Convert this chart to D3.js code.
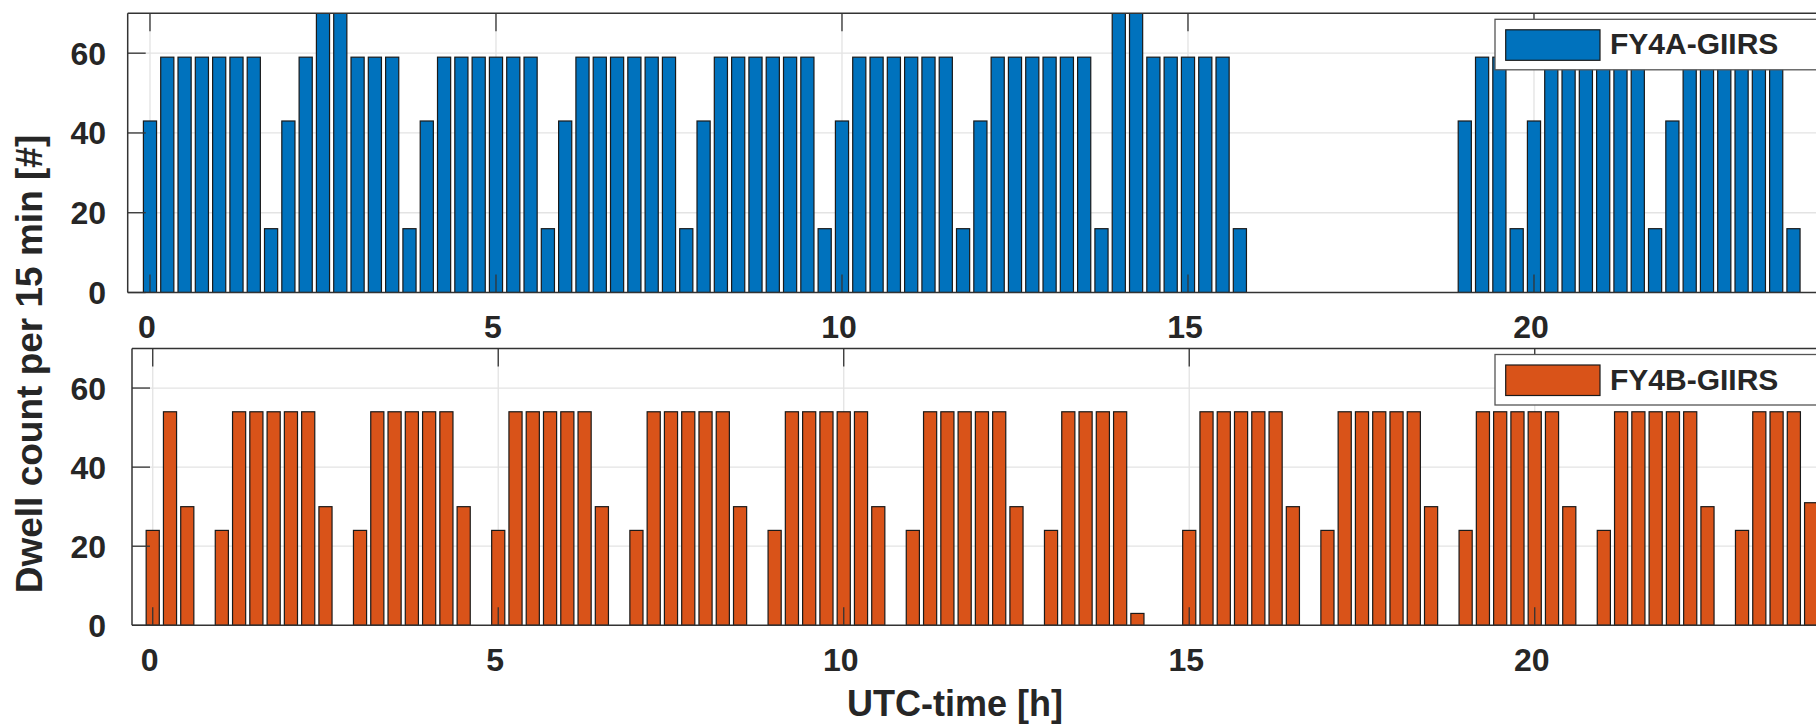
<!DOCTYPE html>
<html>
<head>
<meta charset="utf-8">
<script src="https://cdn.jsdelivr.net/npm/d3@7"></script>
<style>
  body { margin: 0; background: #fff; }
  text { font-family: "Liberation Sans", Arial, sans-serif; font-weight: bold; fill: #262626; }
</style>
</head>
<body>
<div id="chart"></div>
<script>
// 15 min slots from 0 h to 24 h
const slotHours = d3.range(0, 24.001, 0.25)

// dwell counts per slot (bars above 70 are cut by the axis)
const fy4aCounts = [
  43, 59, 59, 59, 59, 59, 59, 16,
  43, 59, 75, 75, 59, 59, 59, 16,
  43, 59, 59, 59, 59, 59, 59, 16,
  43, 59, 59, 59, 59, 59, 59, 16,
  43, 59, 59, 59, 59, 59, 59, 16,
  43, 59, 59, 59, 59, 59, 59, 16,
  43, 59, 59, 59, 59, 59, 59, 16,
  75, 75, 59, 59, 59, 59, 59, 16,
  0, 0, 0, 0, 0, 0, 0, 0,
  0, 0, 0, 0, 43, 59, 59, 16,
  43, 59, 59, 59, 59, 59, 59, 16,
  43, 59, 59, 59, 59, 59, 59, 16,
  0
]

const fy4bCounts = [
  24, 54, 30, 0,
  24, 54, 54, 54, 54, 54, 30, 0,
  24, 54, 54, 54, 54, 54, 30, 0,
  24, 54, 54, 54, 54, 54, 30, 0,
  24, 54, 54, 54, 54, 54, 30, 0,
  24, 54, 54, 54, 54, 54, 30, 0,
  24, 54, 54, 54, 54, 54, 30, 0,
  24, 54, 54, 54, 54, 3, 0, 0,
  24, 54, 54, 54, 54, 54, 30, 0,
  24, 54, 54, 54, 54, 54, 30, 0,
  24, 54, 54, 54, 54, 54, 30, 0,
  24, 54, 54, 54, 54, 54, 30, 0,
  24, 54, 54, 54, 31
]

const seriesNames = ["FY4A-GIIRS", "FY4B-GIIRS"]
const xTicks = [0, 5, 10, 15, 20]
const yTicks = [0, 20, 40, 60]
const xLabel = "UTC-time [h]"
const yLabel = "Dwell count per 15 min [#]"

const width = 1816
const height = 726
const tickLen = 18

const svg = d3.select('#chart')
  .append('svg')
  .attr('width', width)
  .attr('height', height)

const panels = [
  { id: 'a', counts: fy4aCounts, name: seriesNames[0], color: '#0072BD',
    left: 127.7, top: 13.3, bottom: 292.5, xDomain: [-0.322, 24.322], pxPerHour: 69.2 },
  { id: 'b', counts: fy4bCounts, name: seriesNames[1], color: '#D95319',
    left: 132, top: 348.5, bottom: 625.3, xDomain: [-0.3, 24.3], pxPerHour: 69.1 }
]

panels.forEach(p => {
  const right = p.left + (p.xDomain[1] - p.xDomain[0]) * p.pxPerHour

  const xScale = d3.scaleLinear()
    .domain(p.xDomain)
    .range([p.left, right])

  const yScale = d3.scaleLinear()
    .domain([0, 70])
    .range([p.bottom, p.top])

  const g = svg.append('g')

  g.append('clipPath')
    .attr('id', 'clip-' + p.id)
    .append('rect')
    .attr('x', p.left)
    .attr('y', p.top)
    .attr('width', right - p.left)
    .attr('height', p.bottom - p.top)

  // grid
  g.append('g')
    .selectAll('line.gx')
    .data(xTicks)
    .join('line')
    .attr('x1', d => xScale(d))
    .attr('x2', d => xScale(d))
    .attr('y1', p.top)
    .attr('y2', p.bottom)
    .attr('stroke', '#e3e3e3')
    .attr('stroke-width', 1.3)

  g.append('g')
    .selectAll('line.gy')
    .data(yTicks.filter(d => d > 0))
    .join('line')
    .attr('x1', p.left)
    .attr('x2', right)
    .attr('y1', d => yScale(d))
    .attr('y2', d => yScale(d))
    .attr('stroke', '#e3e3e3')
    .attr('stroke-width', 1.3)

  // bars
  const barW = xScale(0.19) - xScale(0)
  g.append('g')
    .attr('clip-path', `url(#clip-${p.id})`)
    .selectAll('rect')
    .data(slotHours.map((h, i) => ({ h, v: p.counts[i] })).filter(d => d.v > 0))
    .join('rect')
    .attr('x', d => xScale(d.h) - barW / 2)
    .attr('y', d => yScale(d.v))
    .attr('width', barW)
    .attr('height', d => yScale(0) - yScale(d.v))
    .attr('fill', p.color)
    .attr('stroke', '#1a1a1a')
    .attr('stroke-width', 1.2)

  // axes box (right side falls outside the picture)
  const box = g.append('g')
    .attr('stroke', '#333')
    .attr('stroke-width', 1.5)
  box.append('line').attr('x1', p.left).attr('x2', right + 2).attr('y1', p.top).attr('y2', p.top)
  box.append('line').attr('x1', p.left).attr('x2', right + 2).attr('y1', p.bottom).attr('y2', p.bottom)
  box.append('line').attr('x1', p.left).attr('x2', p.left).attr('y1', p.top).attr('y2', p.bottom)

  // ticks
  const ticks = g.append('g').attr('stroke', '#333').attr('stroke-width', 1.3)
  xTicks.forEach(t => {
    ticks.append('line').attr('x1', xScale(t)).attr('x2', xScale(t))
      .attr('y1', p.bottom).attr('y2', p.bottom - tickLen)
    ticks.append('line').attr('x1', xScale(t)).attr('x2', xScale(t))
      .attr('y1', p.top).attr('y2', p.top + tickLen)
  })
  yTicks.forEach(t => {
    ticks.append('line').attr('x1', p.left).attr('x2', p.left + tickLen)
      .attr('y1', yScale(t)).attr('y2', yScale(t))
  })

  // tick labels
  g.append('g')
    .selectAll('text')
    .data(xTicks)
    .join('text')
    .attr('x', d => xScale(d) - 3)
    .attr('y', p.bottom + 45.5)
    .attr('text-anchor', 'middle')
    .style('font-size', '32px')
    .text(d => d)

  g.append('g')
    .selectAll('text')
    .data(yTicks)
    .join('text')
    .attr('x', 106)
    .attr('y', d => yScale(d))
    .attr('dy', '0.36em')
    .attr('text-anchor', 'end')
    .style('font-size', '32px')
    .text(d => d)

  // legend
  const lg = g.append('g').attr('transform', `translate(1495, ${p.top + 6})`)
  lg.append('rect')
    .attr('width', 400)
    .attr('height', 50.5)
    .attr('fill', '#fff')
    .attr('stroke', '#555')
    .attr('stroke-width', 1.3)
  lg.append('rect')
    .attr('x', 10.7)
    .attr('y', 10.5)
    .attr('width', 94.3)
    .attr('height', 30.5)
    .attr('fill', p.color)
    .attr('stroke', '#1a1a1a')
    .attr('stroke-width', 1.2)
  lg.append('text')
    .attr('x', 115)
    .attr('y', 35)
    .style('font-size', '30px')
    .text(p.name)
})

// shared axis labels
svg.append('text')
  .attr('x', 955)
  .attr('y', 716)
  .attr('text-anchor', 'middle')
  .style('font-size', '36px')
  .text(xLabel)

svg.append('text')
  .attr('transform', 'translate(42, 364) rotate(-90)')
  .attr('text-anchor', 'middle')
  .style('font-size', '37px')
  .text(yLabel)
</script>
</body>
</html>
